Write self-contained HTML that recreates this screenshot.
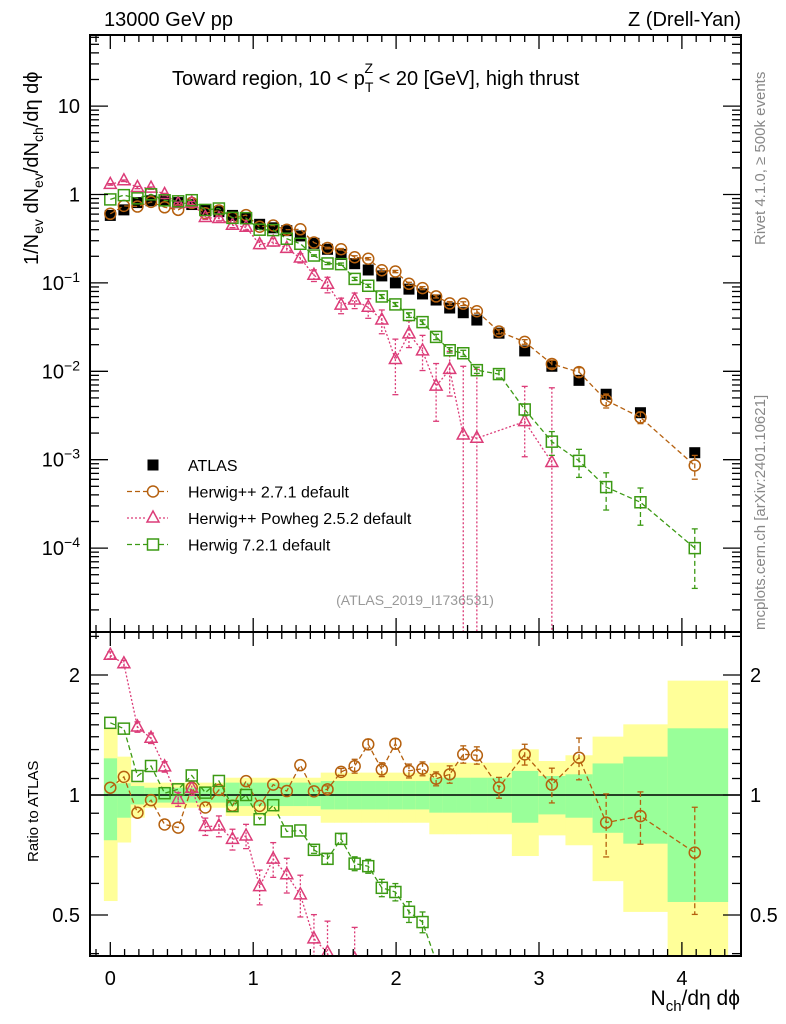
<!DOCTYPE html>
<html><head><meta charset="utf-8"><style>
html,body{margin:0;padding:0;background:#fff;overflow:hidden;width:786px;height:1024px;}
svg{display:block;font-family:"Liberation Sans",sans-serif;}
</style></head><body>
<svg id="plot" width="786" height="1024" viewBox="0 0 786 1024" xmlns="http://www.w3.org/2000/svg">
<defs>
<clipPath id="cm"><rect x="90" y="35" width="651" height="597"/></clipPath>
<clipPath id="cr"><rect x="90" y="632" width="651" height="324"/></clipPath>
</defs>
<text x="104" y="26" font-size="20">13000 GeV pp</text>
<text x="741" y="26" font-size="20" text-anchor="end">Z (Drell-Yan)</text>
<text x="172" y="85" font-size="20">Toward region, 10 &lt; p<tspan font-size="14" dy="7">T</tspan><tspan font-size="14" dx="-9" dy="-19">Z</tspan><tspan dy="12"> &lt; 20 [GeV], high thrust</tspan></text>
<text transform="translate(765,245) rotate(-90)" font-size="15" fill="#888">Rivet 4.1.0, ≥ 500k events</text>
<text transform="translate(765,630) rotate(-90)" font-size="15" fill="#888">mcplots.cern.ch [arXiv:2401.10621]</text>
<text transform="translate(38,265) rotate(-90)" font-size="20">1/N<tspan font-size="14" dy="5">ev</tspan><tspan dy="-5"> dN</tspan><tspan font-size="14" dy="5">ev</tspan><tspan dy="-5">/dN</tspan><tspan font-size="14" dy="5">ch</tspan><tspan dy="-5">/dη dϕ</tspan></text>
<text transform="translate(38,862) rotate(-90)" font-size="15">Ratio to ATLAS</text>
<text x="740" y="1005" font-size="21" text-anchor="end">N<tspan font-size="15" dy="6">ch</tspan><tspan dy="-6">/dη dϕ</tspan></text>
<text x="415" y="605" font-size="14" fill="#999" text-anchor="middle">(ATLAS_2019_I1736531)</text>
<g id="bands" clip-path="url(#cr)"></g><g id="seriesM" clip-path="url(#cm)"></g><g id="seriesR" clip-path="url(#cr)"></g><g id="axes"></g><g id="legend"></g>
</svg>
<script>
const xs=[0,0.095,0.19,0.285,0.38,0.475,0.57,0.665,0.76,0.855,0.95,1.045,1.14,1.235,1.33,1.425,1.52,1.615,1.71,1.805,1.9,1.995,2.09,2.185,2.28,2.375,2.47,2.565,2.72,2.9,3.09,3.28,3.47,3.71,4.09];
const atlas=[0.58,0.67,0.81,0.85,0.85,0.81,0.77,0.66,0.64,0.58,0.54,0.46,0.42,0.39,0.34,0.28,0.24,0.21,0.165,0.14,0.12,0.10,0.085,0.075,0.064,0.052,0.046,0.038,0.027,0.017,0.0114,0.0079,0.0055,0.0034,0.0012];
const herwig=[0.605,0.744,0.731,0.825,0.717,0.671,0.803,0.614,0.659,0.545,0.585,0.432,0.446,0.399,0.404,0.286,0.248,0.240,0.195,0.1876,0.139,0.1345,0.0977,0.0873,0.0703,0.0586,0.0582,0.0478,0.0282,0.0215,0.0121,0.0098,0.00469,0.00301,0.00086];
const herwigErr=[0,0,0,0,0,0,0,0,0,0,0,0,0,0,0,0,0.02,0.02,0.04,0.03,0.04,0.03,0.04,0.04,0.04,0.05,0.05,0.05,0.06,0.06,0.1,0.12,0.18,0.15,0.3];
const powheg=[1.30,1.43,1.20,1.18,1.00,0.79,0.80,0.55,0.535,0.449,0.426,0.271,0.290,0.246,0.191,0.122,0.0965,0.056,0.064,0.053,0.038,0.0136,0.0265,0.017,0.0068,0.0105,0.0019,0.00175,null,0.0027,0.00093,null,null,null,null];
const powhegErrUp=[0.02,0.02,0.03,0.03,0.03,0.04,0.04,0.05,0.06,0.06,0.07,0.1,0.1,0.1,0.12,0.15,0.2,0.2,0.2,0.25,0.3,0.7,0.4,0.5,0.8,0.6,5,5,0,1.5,6,0,0,0,0];
const powhegErrDn=[0.02,0.02,0.03,0.03,0.03,0.04,0.04,0.05,0.06,0.06,0.07,0.1,0.1,0.1,0.12,0.15,0.2,0.2,0.2,0.25,0.3,0.6,0.3,0.4,0.6,0.5,1,1,0,0.6,1,0,0,0,0];
const h7=[0.88,0.983,0.904,1.005,0.859,0.837,0.862,0.669,0.694,0.544,0.54,0.40,0.396,0.316,0.277,0.204,0.166,0.163,0.111,0.0928,0.0702,0.0571,0.0433,0.036,0.0245,0.0173,0.016,0.0103,0.0093,0.0037,0.0016,0.00097,0.00049,0.00033,0.0001];
const h7Err=[0,0,0,0,0,0,0,0,0,0,0,0,0,0,0,0.02,0.03,0.03,0.04,0.04,0.05,0.05,0.06,0.06,0.07,0.07,0.08,0.08,0.1,0.15,0.3,0.35,0.45,0.45,0.65];
const yellowUp=[1.467,1.248,1.074,1.074,1.074,1.074,1.074,1.074,1.074,1.105,1.105,1.105,1.105,1.105,1.105,1.105,1.138,1.138,1.138,1.138,1.138,1.138,1.138,1.138,1.205,1.205,1.205,1.205,1.205,1.302,1.217,1.258,1.401,1.504,1.936];
const yellowDn=[0.542,0.76,0.877,0.929,0.929,0.929,0.929,0.929,0.929,0.886,0.886,0.886,0.886,0.886,0.886,0.886,0.852,0.852,0.852,0.852,0.852,0.852,0.852,0.852,0.797,0.797,0.797,0.797,0.797,0.703,0.792,0.748,0.608,0.509,0.3];
const greenUp=[1.236,1.07,1.053,1.043,1.043,1.043,1.043,1.043,1.043,1.074,1.074,1.074,1.074,1.074,1.074,1.074,1.084,1.084,1.084,1.084,1.084,1.084,1.084,1.084,1.105,1.105,1.105,1.105,1.105,1.149,1.116,1.127,1.2,1.248,1.47];
const greenDn=[0.77,0.877,0.947,0.957,0.957,0.957,0.957,0.957,0.957,0.938,0.938,0.938,0.938,0.938,0.938,0.938,0.92,0.92,0.92,0.92,0.92,0.92,0.92,0.92,0.903,0.903,0.903,0.903,0.903,0.852,0.894,0.877,0.804,0.755,0.539];
const mainTicks=["10","1","10⁻¹","10⁻²","10⁻³","10⁻⁴"];
const xTickLabels=["0","1","2","3","4"];
const ratioTicks=[0.5,1,2];

const L=90,R=741,T=35,MB=632,B=956;
const NS="http://www.w3.org/2000/svg";
const X=v=>110.3+v*142.9;
const Y=v=>194.5-88.4*Math.log10(v);
const YR=v=>795-398.6*Math.log10(v);
const clipM=y=>Math.min(Math.max(y,T-5),MB+5), clipR=y=>Math.min(Math.max(y,MB-5),B+5);
function mk(tag,attrs,parent){const e=document.createElementNS(NS,tag);for(const k in attrs)e.setAttribute(k,attrs[k]);parent.appendChild(e);return e;}
const gB=document.getElementById('bands'),gM=document.getElementById('seriesM'),gR=document.getElementById('seriesR'),gA=document.getElementById('axes'),gL=document.getElementById('legend');

const edges=[];for(let i=0;i<=xs.length;i++){edges.push(i==0?xs[0]-0.045:i==xs.length?4.32:(xs[i-1]+xs[i])/2);}
for(let i=0;i<xs.length;i++){
 const x0=X(edges[i]),x1=X(edges[i+1]);
 const y1=clipR(YR(yellowUp[i])),y2=clipR(YR(yellowDn[i]));
 const r=mk('rect',{x:x0,y:y1,width:x1-x0+0.5,height:y2-y1,fill:'#ffff99'},gB);
 
 
 const g1=clipR(YR(greenUp[i])),g2=clipR(YR(greenDn[i]));
 const r2=mk('rect',{x:x0,y:g1,width:x1-x0+0.5,height:g2-g1,fill:'#99ff99'},gB);
 
 
}
mk('line',{x1:L,x2:R,y1:795,y2:795,stroke:'#000','stroke-width':1.5},gB);

function marker(type,cx,cy,color,parent){
 let e;
 if(type=='sq')e=mk('rect',{x:cx-5.5,y:cy-5.5,width:11,height:11,fill:'#000'},parent);
 if(type=='circ')e=mk('circle',{cx:cx,cy:cy,r:5.5,fill:'none',stroke:color,'stroke-width':1.5},parent);
 if(type=='tri')e=mk('path',{d:`M${cx} ${cy-7}L${cx+6} ${cy+4}L${cx-6} ${cy+4}Z`,fill:'none',stroke:color,'stroke-width':1.5},parent);
 if(type=='osq')e=mk('rect',{x:cx-5.5,y:cy-5.5,width:11,height:11,fill:'none',stroke:color,'stroke-width':1.5},parent);
 return e;
}
function drawSeries(name,vals,eUp,eDn,type,color,dash,ratio){
 const g=mk('g',{},ratio?gR:gM);
 
 
 const Yf=ratio?YR:Y, cl=ratio?clipR:clipM, bottom=ratio?B:MB, top0=ratio?MB:T;
 const pts=[];
 vals.forEach((v,i)=>{if(v==null)return;const val=ratio?v/atlas[i]:v;pts.push([X(xs[i]),Yf(val),val,i]);});
 if(dash){mk('polyline',{points:pts.map(p=>p[0]+','+p[1]).join(' '),fill:'none',stroke:color,'stroke-width':1.3,'stroke-dasharray':dash},g);}
 pts.forEach(p=>{
  const i=p[3],v=p[2];
  const inView=p[1]>=top0-3&&p[1]<=bottom+3;
  if(eUp&&eUp[i]>0&&inView){const top=cl(Yf(v*(1+eUp[i])));const dn=1-eDn[i];const bot=dn<=0.001?bottom+5:cl(Yf(v*dn));
   mk('line',{x1:p[0],x2:p[0],y1:top,y2:bot,stroke:color,'stroke-width':1.3,'stroke-dasharray':dash||'none'},g);
   mk('line',{x1:p[0]-3,x2:p[0]+3,y1:top,y2:top,stroke:color,'stroke-width':1.3},g);
   if(dn>0.001)mk('line',{x1:p[0]-3,x2:p[0]+3,y1:bot,y2:bot,stroke:color,'stroke-width':1.3},g);}
  if(!inView)return;
  const m=marker(type,p[0],p[1],color,g);
  
  
 });
}
drawSeries('atlas',atlas,null,null,'sq','#000',null,false);
drawSeries('herwig-2-7-1',herwig,herwigErr,herwigErr,'circ','#b5600e','5,3',false);
drawSeries('herwig-powheg-2-5-2',powheg,powhegErrUp,powhegErrDn,'tri','#dc3c78','2,2',false);
drawSeries('herwig-7-2-1',h7,h7Err,h7Err,'osq','#3c9a14','5,3',false);
drawSeries('herwig-2-7-1',herwig,herwigErr,herwigErr,'circ','#b5600e','5,3',true);
drawSeries('herwig-powheg-2-5-2',powheg,powhegErrUp,powhegErrDn,'tri','#dc3c78','2,2',true);
drawSeries('herwig-7-2-1',h7,h7Err,h7Err,'osq','#3c9a14','5,3',true);

const fr1=mk('rect',{x:L,y:T,width:R-L,height:MB-T,fill:'none',stroke:'#000','stroke-width':2},gA);

const fr2=mk('rect',{x:L,y:MB,width:R-L,height:B-MB,fill:'none',stroke:'#000','stroke-width':2},gA);

function tk(x1,y1,x2,y2){mk('line',{x1:x1,y1:y1,x2:x2,y2:y2,stroke:'#000','stroke-width':1.3},gA);}
for(let k=-1;k<=43;k++){const v=k/10;const x=X(v);if(x<=L||x>=R)continue;const len=k%10==0?14:7;
 tk(x,T,x,T+len);tk(x,MB,x,MB-len);tk(x,MB,x,MB+len);tk(x,B,x,B-len);}
xTickLabels.forEach((s,i)=>{const t=mk('text',{x:X(i),y:985,'font-size':20,'text-anchor':'middle'},gA);t.textContent=s;
 });
for(let d=1;d>=-5;d--){for(let m=1;m<10;m++){const v=m*Math.pow(10,d);const y=Y(v);if(y<T||y>MB)continue;const len=m==1?18:9;tk(L,y,L+len,y);tk(R,y,R-len,y);}}
mainTicks.forEach((s,i)=>{const y=Y(Math.pow(10,1-i));let t;
 t=mk('text',{x:80,y:y+7,'font-size':20,'text-anchor':'end'},gA);
 if(i<2){t.textContent=s;}
 else{t.innerHTML='10<tspan font-size="14" dy="-8">−'+(i-1)+'</tspan>';}
 });
for(let v=0.4;v<2.6;v+=(v<2-1e-9?0.1:0.5)){const y=YR(v);if(y<MB||y>B)continue;const major=ratioTicks.some(r=>Math.abs(r-v)<1e-6);const len=major?18:9;tk(L,y,L+len,y);tk(R,y,R-len,y);}
ratioTicks.forEach(v=>{const y=YR(v);
 const t=mk('text',{x:80,y:y+7,'font-size':20,'text-anchor':'end'},gA);t.textContent=String(v);
 
 const t2=mk('text',{x:750,y:y+7,'font-size':20},gA);t2.textContent=String(v);
 });

const leg=[['ATLAS','sq','#000',null],['Herwig++ 2.7.1 default','circ','#b5600e','5,3'],['Herwig++ Powheg 2.5.2 default','tri','#dc3c78','2,2'],['Herwig 7.2.1 default','osq','#3c9a14','5,3']];
leg.forEach((e,i)=>{const y=465+i*26.5;const g=mk('g',{},gL);
 
 
 if(e[3])mk('line',{x1:127,x2:168,y1:y,y2:y,stroke:e[2],'stroke-width':1.3,'stroke-dasharray':e[3]},g);
 if(e[3]){mk('rect',{x:147,y:y-7,width:12,height:14,fill:'#fff'},g);}
 marker(e[1],153,y,e[2],g);
 const t=mk('text',{x:188,y:y+6,'font-size':16},g);t.textContent=e[0];});
</script>
</body></html>
